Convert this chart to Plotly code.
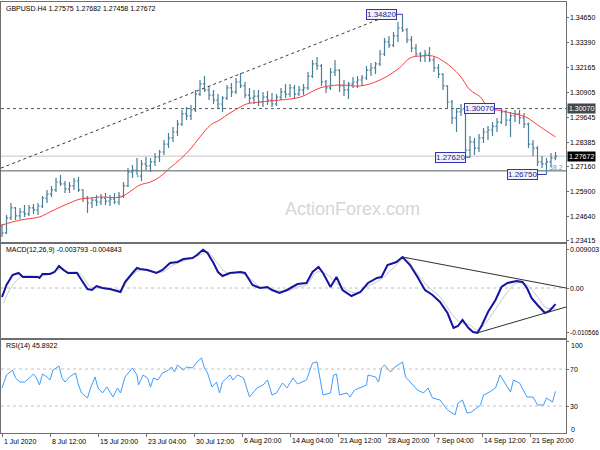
import plotly.graph_objects as go

FONT = "Liberation Sans, Arial, sans-serif"

# ---------------- price bars (12h aggregates), x = H4 bar index ----------------
bar_x = list(range(0, 372, 3))
bar_open = [1.2415,1.2380,1.2456,1.2506,1.2466,1.2486,1.2476,1.2506,1.2496,1.2516,
1.2556,1.2576,1.2597,1.2637,1.2627,1.2602,1.2617,1.2642,1.2597,1.2556,
1.2531,1.2546,1.2536,1.2556,1.2541,1.2551,1.2536,1.2566,1.2617,1.2687,
1.2697,1.2667,1.2728,1.2718,1.2738,1.2763,1.2788,1.2828,1.2859,1.2889,
1.2929,1.2980,1.2970,1.3000,1.3080,1.3131,1.3101,1.3075,1.3050,1.3030,
1.3060,1.3111,1.3091,1.3141,1.3121,1.3075,1.3060,1.3070,1.3040,1.3065,
1.3050,1.3030,1.3065,1.3091,1.3080,1.3111,1.3080,1.3101,1.3111,1.3171,
1.3232,1.3222,1.3141,1.3111,1.3191,1.3201,1.3121,1.3101,1.3131,1.3141,
1.3151,1.3161,1.3201,1.3212,1.3232,1.3282,1.3343,1.3327,1.3373,1.3413,
1.3403,1.3353,1.3312,1.3282,1.3272,1.3282,1.3252,1.3212,1.3181,1.3121,
1.3040,1.2960,1.2990,1.3000,1.2798,1.2839,1.2808,1.2859,1.2889,1.2899,
1.2919,1.2939,1.2990,1.2949,1.2970,1.2980,1.2960,1.2929,1.2828,1.2808,
1.2738,1.2728,1.2738,1.2758]
bar_high = [1.2425,1.2471,1.2531,1.2511,1.2506,1.2521,1.2521,1.2526,1.2531,1.2566,
1.2597,1.2617,1.2657,1.2672,1.2642,1.2637,1.2657,1.2662,1.2600,1.2566,
1.2561,1.2571,1.2576,1.2581,1.2571,1.2581,1.2587,1.2637,1.2708,1.2723,
1.2758,1.2748,1.2763,1.2758,1.2783,1.2798,1.2849,1.2884,1.2914,1.2949,
1.3000,1.3015,1.3025,1.3101,1.3151,1.3171,1.3121,1.3101,1.3080,1.3070,
1.3126,1.3136,1.3161,1.3186,1.3141,1.3111,1.3101,1.3101,1.3091,1.3096,
1.3086,1.3080,1.3111,1.3131,1.3131,1.3126,1.3121,1.3131,1.3191,1.3252,
1.3267,1.3232,1.3151,1.3212,1.3252,1.3205,1.3151,1.3141,1.3166,1.3171,
1.3176,1.3222,1.3237,1.3242,1.3302,1.3363,1.3373,1.3393,1.3443,1.3482,
1.3413,1.3373,1.3332,1.3292,1.3302,1.3317,1.3267,1.3232,1.3185,1.3125,
1.3050,1.3010,1.3030,1.3020,1.2869,1.2859,1.2879,1.2909,1.2919,1.2939,
1.2960,1.3007,1.3000,1.2990,1.3000,1.3000,1.2985,1.2935,1.2849,1.2818,
1.2768,1.2758,1.2783,1.2788]
bar_low = [1.2360,1.2375,1.2445,1.2445,1.2450,1.2461,1.2466,1.2476,1.2471,1.2506,
1.2531,1.2561,1.2587,1.2617,1.2581,1.2581,1.2597,1.2587,1.2536,1.2481,
1.2506,1.2516,1.2521,1.2521,1.2516,1.2526,1.2521,1.2556,1.2612,1.2657,
1.2672,1.2642,1.2697,1.2687,1.2718,1.2738,1.2773,1.2808,1.2839,1.2869,
1.2919,1.2949,1.2949,1.2990,1.3070,1.3091,1.3050,1.3030,1.3010,1.2990,
1.3050,1.3065,1.3080,1.3111,1.3060,1.3035,1.3030,1.3020,1.3015,1.3025,
1.3015,1.3020,1.3050,1.3060,1.3065,1.3055,1.3070,1.3075,1.3101,1.3161,
1.3201,1.3121,1.3086,1.3101,1.3171,1.3091,1.3070,1.3055,1.3111,1.3111,
1.3121,1.3151,1.3171,1.3181,1.3222,1.3272,1.3312,1.3317,1.3343,1.3393,
1.3338,1.3292,1.3272,1.3242,1.3242,1.3242,1.3191,1.3161,1.3101,1.3010,
1.2929,1.2889,1.2970,1.2773,1.2762,1.2773,1.2788,1.2834,1.2849,1.2869,
1.2889,1.2929,1.2919,1.2864,1.2939,1.2929,1.2909,1.2808,1.2768,1.2718,
1.2708,1.2675,1.2713,1.2746]
bar_close = [1.2380,1.2456,1.2506,1.2466,1.2486,1.2476,1.2506,1.2496,1.2516,1.2556,
1.2576,1.2597,1.2637,1.2627,1.2602,1.2617,1.2642,1.2597,1.2556,1.2531,
1.2546,1.2536,1.2556,1.2541,1.2551,1.2536,1.2566,1.2617,1.2687,1.2697,
1.2667,1.2728,1.2718,1.2738,1.2763,1.2788,1.2828,1.2859,1.2889,1.2929,
1.2980,1.2970,1.3000,1.3080,1.3131,1.3101,1.3075,1.3050,1.3030,1.3060,
1.3111,1.3091,1.3141,1.3121,1.3075,1.3060,1.3070,1.3040,1.3065,1.3050,
1.3030,1.3065,1.3091,1.3080,1.3111,1.3080,1.3101,1.3111,1.3171,1.3232,
1.3222,1.3141,1.3111,1.3191,1.3201,1.3121,1.3101,1.3131,1.3141,1.3151,
1.3161,1.3201,1.3212,1.3232,1.3282,1.3343,1.3327,1.3373,1.3413,1.3403,
1.3353,1.3312,1.3282,1.3272,1.3282,1.3252,1.3212,1.3181,1.3121,1.3040,
1.2960,1.2990,1.3000,1.2798,1.2839,1.2808,1.2859,1.2889,1.2899,1.2919,
1.2939,1.2990,1.2949,1.2970,1.2980,1.2960,1.2929,1.2828,1.2808,1.2738,
1.2728,1.2738,1.2758,1.2767]

# moving average (red)
ma_x = [0,12,25,32,39,45,52,59,65,79,85,92,99,105,112,119,125,132,139,145,
        152,159,163,172,185,199,212,225,239,252,265,272,279,287,295,305,312,319,325,330,
        339,349,359,369]
ma_y = [1.2420,1.2445,1.2461,1.2486,1.2511,1.2531,1.2551,1.2556,1.2561,1.2561,
        1.2587,1.2622,1.2637,1.2662,1.2708,1.2753,1.2798,1.2864,1.2924,1.2949,
        1.2985,1.3015,1.3030,1.3040,1.3050,1.3065,1.3111,1.3126,1.3121,1.3151,
        1.3212,1.3262,1.3272,1.3272,1.3242,1.3176,1.3101,1.3065,1.3000,1.3000,
        1.2985,1.2965,1.2914,1.2864]

# marked levels
high_label = 1.34820
pivot_label = 1.30070
low1_label = 1.27620
low2_label = 1.26750
last_price = 1.27672
support_level = 1.2693
trend_x = [-0.67, 255]
trend_y = [1.2707, 1.3468]

price_ticks = [1.34650,1.33390,1.32165,1.30905,1.29645,1.28385,1.27160,1.25900,1.24640,1.23415]

# ---------------- MACD ----------------
macd_x = [0,3,7,11,14,19,24,25,27,32,35,38,41,44,50,53,57,60,63,67,
          72,79,82,87,90,92,97,103,107,112,117,121,127,130,134,137,141,144,147,152,
          159,162,167,172,177,180,185,190,194,197,203,207,211,214,219,223,227,233,239,244,
          250,253,257,263,267,272,277,282,287,292,297,301,304,307,311,314,317,320,324,329,
          333,337,343,347,350,353,357,362,365,369]
macd = [-0.00212,0.00071,0.00307,0.00354,0.00259,0.00259,0.00259,0.00236,0.00330,0.00330,
        0.00377,0.00519,0.00424,0.00354,0.00354,0.00189,-0.00024,-0.00047,0.00047,0.0,
        -0.00024,-0.00094,0.00141,0.00354,0.00472,0.00448,0.00424,0.00354,0.00424,0.00590,
        0.00613,0.00684,0.00707,0.00778,0.00900,0.00825,0.00590,0.00377,0.00283,0.00354,
        0.00377,0.00354,0.00071,0.0,0.00024,-0.00047,-0.00118,-0.00047,0.00024,0.00094,
        0.00118,0.00377,0.00495,0.00354,0.00024,0.00259,-0.00047,-0.00189,-0.00094,0.00118,
        0.00236,0.00259,0.00542,0.00613,0.00731,0.00542,0.00259,-0.00047,-0.00165,-0.00330,
        -0.00590,-0.00943,-0.00896,-0.00755,-0.00943,-0.01040,-0.01057,-0.00872,-0.00566,-0.00283,
        0.00024,0.00118,0.00165,0.00141,0.0,-0.00236,-0.00401,-0.00590,-0.00542,-0.00379]
sig_x = [1,5,10,14,21,27,34,40,44,50,54,59,65,74,80,85,92,101,107,114,
         123,132,137,143,150,159,165,172,181,190,197,203,210,217,223,230,237,243,252,261,
         269,275,283,292,299,305,312,317,323,330,337,343,350,357,363,369]
signal = [-0.00354,-0.00047,0.00189,0.00283,0.00283,0.00283,0.00354,0.00472,0.00377,0.00377,
          0.00259,0.00024,0.0,-0.00047,-0.00024,0.00236,0.00424,0.00377,0.00377,0.00542,
          0.00660,0.00778,0.00849,0.00613,0.00354,0.00354,0.00236,0.00024,-0.00047,-0.00071,
          0.00024,0.00071,0.00377,0.00307,0.00118,-0.00047,-0.00118,0.00024,0.00189,0.00472,
          0.00707,0.00424,0.00071,-0.00212,-0.00566,-0.00802,-0.00872,-0.00990,-0.00802,-0.00448,
          -0.00094,0.00118,0.00071,-0.00212,-0.00472,-0.00484]
macd_upper_x = [267, 376]
macd_upper_y = [0.00731, 0.0]
macd_lower_x = [317, 376]
macd_lower_y = [-0.01057, -0.00448]
macd_ticks = [0.009003, 0.0, -0.010566]
macd_ticktext = ["0.009003", "0.00", "-0.010566"]

# ---------------- RSI ----------------
rsi_x = [0,3,7,9,12,15,19,21,23,25,
         27,30,32,34,38,40,42,45,49,51,
         53,57,59,62,64,67,70,72,74,77,
         79,82,84,87,90,91,94,97,99,101,
         104,107,111,113,115,117,121,123,127,130,
         133,135,137,140,143,145,147,152,154,157,
         161,165,170,174,177,180,183,187,190,194,
         197,203,207,210,214,219,221,223,225,230,
         232,235,240,243,244,249,251,253,255,259,
         262,267,269,273,277,281,284,287,292,297,
         302,304,307,310,313,319,321,325,329,332,
         335,339,341,345,350,354,357,361,363,367,
         369]
rsi = [49.5,63.5,68.9,60.3,55.9,55.9,61.4,64.6,60.3,52.7,
       64.6,61.4,58.1,68.9,73.2,60.3,55.9,61.4,65.7,52.7,
       44.1,38.7,49.5,61.4,49.5,44.1,50.5,45.1,39.7,49.5,
       44.1,61.4,65.7,71.1,63.5,52.7,63.5,60.3,50.5,60.3,
       58.1,65.7,68.9,72.2,66.8,74.3,68.9,72.2,71.1,77.6,
       81.9,71.1,65.7,50.5,55.9,44.1,55.9,63.5,58.1,63.5,
       60.3,39.7,49.5,52.7,58.1,41.9,44.1,54.9,49.5,60.3,
       53.8,58.1,76.5,77.6,41.9,44.1,63.5,64.6,41.9,44.1,
       39.7,47.3,50.5,52.7,63.5,61.4,55.9,71.1,74.3,66.8,
       72.2,77.6,61.4,54.9,47.3,44.1,49.5,38.7,36.5,25.7,
       20.3,33.2,36.5,22.4,23.5,31.1,41.9,45.1,49.5,63.5,
       55.9,45.1,58.1,54.9,39.7,39.7,31.1,31.1,38.7,34.3,
       45.9]
rsi_levels = [70, 30]
rsi_ticks = [100, 70, 30, 0]

# ---------------- time axis ----------------
time_tickvals = [0,32,64,96,128,160,192,224,256,288,320,352]
time_ticktext = ["1 Jul 2020","8 Jul 12:00","15 Jul 20:00","23 Jul 04:00","30 Jul 12:00",
                 "6 Aug 20:00","14 Aug 04:00","21 Aug 12:00","28 Aug 20:00","7 Sep 04:00",
                 "14 Sep 12:00","21 Sep 20:00"]

BAR = "#4a7f99"
FRAME = "#6f6f6f"
W, H = 600, 450
XDOM = [1 / W, 566 / W]
D_MAIN = [1 - 242 / H, 1 - 2 / H]
D_MACD = [1 - 338 / H, 1 - 244 / H]
D_RSI = [1 - 433 / H, 1 - 340 / H]
FS = 7

fig = go.Figure()
fig.add_trace(go.Ohlc(x=bar_x, open=bar_open, high=bar_high, low=bar_low, close=bar_close,
                      increasing=dict(line=dict(color=BAR, width=1.2)),
                      decreasing=dict(line=dict(color=BAR, width=1.2)),
                      tickwidth=0.35, xaxis="x", yaxis="y", hoverinfo="skip", showlegend=False))
fig.add_trace(go.Scatter(x=ma_x, y=ma_y, mode="lines", line=dict(color="#ff3c3c", width=1, shape="spline"),
                         xaxis="x", yaxis="y", showlegend=False, hoverinfo="skip"))
fig.add_trace(go.Scatter(x=trend_x, y=trend_y, mode="lines", line=dict(color="#3a3a3a", width=1, dash="3px,3px"),
                         xaxis="x", yaxis="y", showlegend=False, hoverinfo="skip"))

fig.add_trace(go.Scatter(x=sig_x, y=signal, mode="lines", line=dict(color="#c8c8c8", width=1, shape="spline"),
                         xaxis="x2", yaxis="y2", showlegend=False, hoverinfo="skip"))
fig.add_trace(go.Scatter(x=macd_x, y=macd, mode="lines", line=dict(color="#1414a0", width=2),
                         xaxis="x2", yaxis="y2", showlegend=False, hoverinfo="skip"))
fig.add_trace(go.Scatter(x=macd_upper_x, y=macd_upper_y, mode="lines", line=dict(color="#303030", width=1),
                         xaxis="x2", yaxis="y2", showlegend=False, hoverinfo="skip"))
fig.add_trace(go.Scatter(x=macd_lower_x, y=macd_lower_y, mode="lines", line=dict(color="#303030", width=1),
                         xaxis="x2", yaxis="y2", showlegend=False, hoverinfo="skip"))

fig.add_trace(go.Scatter(x=rsi_x, y=rsi, mode="lines", line=dict(color="#3f9cff", width=1),
                         xaxis="x3", yaxis="y3", showlegend=False, hoverinfo="skip"))

shapes = []
def hline(y, yref, xref, color, dash="solid"):
    shapes.append(dict(type="line", xref=xref + " domain", x0=0, x1=1, yref=yref, y0=y, y1=y,
                       line=dict(color=color, width=1, dash=dash), layer="below"))

hline(last_price, "y", "x", "#c4c4c4")
hline(pivot_label, "y", "x", "#4f5f5f", "3px,3px")
hline(support_level, "y", "x", "#4f5f5f")
hline(0.0, "y2", "x2", "#bcbcbc", "3px,3px")
for lv in rsi_levels:
    hline(lv, "y3", "x3", "#c4c4c4", "3px,3px")

annotations = []
BOX_BORDER = "#3535aa"
labels = [  # (price, bar index of the extreme, pixel gap)
    (high_label, 267, 6),
    (pivot_label, 333, 7),
    (low1_label, 312, 4),
    (low2_label, 363, 9),
]
for price, bx, gap in labels:
    annotations.append(dict(x=bx, y=price, xref="x", yref="y", text=f"{price:.5f}", showarrow=False,
                            xanchor="right", yanchor="middle", xshift=-gap,
                            font=dict(family=FONT, size=8, color="#25258c"),
                            bgcolor="#f2f2fc", bordercolor=BOX_BORDER, borderwidth=1, borderpad=0))
    shapes.append(dict(type="line", xref="x", xsizemode="pixel", xanchor=bx, x0=-gap - 1, x1=0,
                       yref="y", y0=price, y1=price, line=dict(color=BOX_BORDER, width=1)))

# right-axis tick labels (left-aligned, MT4 style)
LX = 569 / W
def rlabel(text, y, yref, color="#000000", bg=None, size=FS):
    d = dict(x=LX, y=y, xref="paper", yref=yref, text=text, showarrow=False,
             xanchor="left", yanchor="middle", font=dict(family=FONT, size=size, color=color), borderpad=0)
    if bg:
        d.update(bgcolor=bg, borderpad=1, x=567 / W)
    annotations.append(d)

for v in price_ticks:
    rlabel(f"{v:.5f}", v, "y")
rlabel(f"{pivot_label:.5f}", pivot_label, "y", "white", "#3f4b4b")
rlabel(f"{last_price:.5f}", last_price, "y", "white", "#000000")
for v, t in zip(macd_ticks, macd_ticktext):
    rlabel(t, v, "y2", size=6.4 if t.startswith("-") else FS)
for v in rsi_levels:
    rlabel(str(v), v, "y3")

def ptxt(text, xpx, ypx, size=FS, color="#000000", xanchor="left"):
    annotations.append(dict(x=xpx / W, y=1 - ypx / H, xref="paper", yref="paper", text=text,
                            showarrow=False, xanchor=xanchor, yanchor="middle",
                            font=dict(family=FONT, size=size, color=color)))

ptxt(str(rsi_ticks[0]), 569, 345)
ptxt(str(rsi_ticks[-1]), 569, 429)
ptxt("GBPUSD.H4 1.27575 1.27682 1.27458 1.27672", 4, 8)
ptxt("MACD(12,26,9) -0.003793 -0.004843", 4, 250)
ptxt("RSI(14) 45.8922", 4, 346)
ptxt("ActionForex.com", 352, 209, size=18, color="#d6d6d6", xanchor="center")
ptxt("38.2", 565, 167, color="#909090", xanchor="right")

# bottom time labels, left-aligned at their ticks
for v, t in zip(time_tickvals, time_ticktext):
    annotations.append(dict(x=v, y=1 - 441 / H, xref="x3", yref="paper", text=t, showarrow=False,
                            xanchor="left", yanchor="middle", xshift=0,
                            font=dict(family=FONT, size=FS, color="#000000")))

axis_common = dict(showgrid=False, zeroline=False, showline=True, mirror=True, linecolor=FRAME, linewidth=1)

fig.update_layout(
    width=W, height=H, margin=dict(l=0, r=0, t=0, b=0),
    paper_bgcolor="white", plot_bgcolor="white", showlegend=False,
    shapes=shapes, annotations=annotations,
    xaxis=dict(domain=XDOM, range=[-0.67, 376], anchor="y", showticklabels=False, ticks="",
               rangeslider=dict(visible=False), **axis_common),
    xaxis2=dict(domain=XDOM, matches="x", anchor="y2", showticklabels=False, ticks="", **axis_common),
    xaxis3=dict(domain=XDOM, matches="x", anchor="y3", tickvals=time_tickvals, showticklabels=False,
                ticks="outside", ticklen=3, tickcolor=FRAME, **axis_common),
    yaxis=dict(domain=D_MAIN, range=[1.23345, 1.35441], anchor="x", side="right",
               tickvals=price_ticks, showticklabels=False,
               ticks="outside", ticklen=2, tickcolor=FRAME, **axis_common),
    yaxis2=dict(domain=D_MACD, range=[-0.01179, 0.010375], anchor="x2", side="right",
                tickvals=macd_ticks, showticklabels=False,
                ticks="outside", ticklen=2, tickcolor=FRAME, **axis_common),
    yaxis3=dict(domain=D_RSI, range=[0.82, 101.35], anchor="x3", side="right",
                tickvals=rsi_ticks, showticklabels=False,
                ticks="outside", ticklen=2, tickcolor=FRAME, **axis_common),
)

fig.write_html("out.html", config={"displayModeBar": False},
               post_script="document.body.style.margin='0';document.body.style.padding='0';")
